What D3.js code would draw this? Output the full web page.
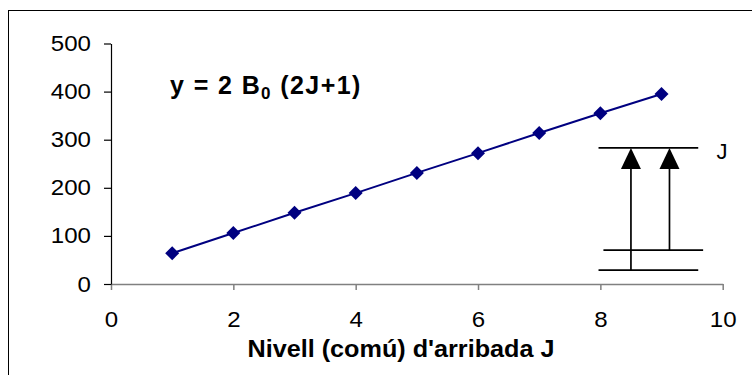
<!DOCTYPE html>
<html>
<head>
  <script src="https://d3js.org/d3.v7.min.js"></script>
  <style>
    body { margin: 0; background: #fff; overflow: hidden; }
    text { font-family: Arial, "Liberation Sans", sans-serif; }
  </style>
</head>
<body>
  <script>
    // values
    const levels = [1, 2, 3, 4, 5, 6, 7, 8, 9];
    const energies = [64, 106, 148, 189, 231, 272, 314, 355, 395];
    const xTicks = [0, 2, 4, 6, 8, 10];
    const yTicks = [0, 100, 200, 300, 400, 500];

    const width = 752, height = 375;
    const fontStack = "Arial, 'Liberation Sans', sans-serif";

    const svg = d3.select("body").append("svg")
      .attr("width", width)
      .attr("height", height);

    // outer frame (runs off the right and bottom edge)
    svg.append("rect")
      .attr("x", 8.5).attr("y", 10.5)
      .attr("width", 800).attr("height", 400)
      .attr("fill", "none").attr("stroke", "#000").attr("stroke-width", 1);

    const x = d3.scaleLinear().domain([0, 10]).range([111, 722.7]);
    const y = d3.scaleLinear().domain([0, 500]).range([284, 43.5]);

    // x axis (grey)
    const xAxis = svg.append("g")
      .attr("transform", `translate(0,${y(0)})`)
      .call(d3.axisBottom(x).tickValues(xTicks).tickSize(6).tickSizeOuter(0).tickPadding(21));
    xAxis.select(".domain").attr("stroke", "#808080").attr("stroke-width", 1.5);
    xAxis.selectAll(".tick line").attr("stroke", "#808080").attr("stroke-width", 1.5);
    xAxis.selectAll("text")
      .attr("font-size", 22).attr("fill", "#000").attr("font-family", fontStack)
      .attr("textLength", d => String(d).length * 13.4)
      .attr("lengthAdjust", "spacingAndGlyphs");

    // y axis (black)
    const yAxis = svg.append("g")
      .attr("transform", `translate(${x(0)},0)`)
      .call(d3.axisLeft(y).tickValues(yTicks).tickSize(7).tickSizeOuter(0).tickPadding(13));
    yAxis.select(".domain").attr("stroke", "#000").attr("stroke-width", 1.2);
    yAxis.selectAll(".tick line").attr("stroke", "#000").attr("stroke-width", 1.2);
    yAxis.selectAll("text")
      .attr("font-size", 22).attr("fill", "#000").attr("font-family", fontStack)
      .attr("textLength", d => String(d).length * 13.4)
      .attr("lengthAdjust", "spacingAndGlyphs");

    // axis title
    svg.append("text")
      .attr("x", 401).attr("y", 357)
      .attr("text-anchor", "middle")
      .attr("font-size", 23).attr("font-weight", "bold")
      .attr("textLength", 307).attr("lengthAdjust", "spacingAndGlyphs")
      .text("Nivell (comú) d'arribada J");

    // formula
    const f = svg.append("text")
      .attr("x", 170).attr("y", 94)
      .attr("font-size", 25).attr("font-weight", "bold")
      .attr("letter-spacing", 1.4);
    f.append("tspan").text("y = 2 B");
    f.append("tspan").attr("font-size", 17).attr("dy", 5).text("0");
    f.append("tspan").attr("dy", -5).text(" (2J+1)");

    // series
    const pts = levels.map((j, i) => ({ j, e: energies[i] }));

    svg.append("path")
      .datum(pts)
      .attr("fill", "none")
      .attr("stroke", "#000080")
      .attr("stroke-width", 2)
      .attr("d", d3.line().x(d => x(d.j)).y(d => y(d.e)));

    svg.append("g")
      .selectAll("path")
      .data(pts)
      .enter().append("path")
      .attr("transform", d => `translate(${x(d.j)},${y(d.e)})`)
      .attr("d", d3.symbol().type(d3.symbolDiamond2).size(125))
      .attr("fill", "#000080");

    // level diagram on the right
    const levelLines = [
      { x1: 7.97, x2: 9.6, v: 283 },
      { x1: 8.05, x2: 9.68, v: 70.6 },
      { x1: 7.97, x2: 9.6, v: 29 }
    ];
    const arrows = [
      { at: 8.5, from: 29, to: 283 },
      { at: 9.13, from: 70.6, to: 283 }
    ];

    const diag = svg.append("g").attr("stroke", "#000").attr("stroke-width", 1.7);
    diag.selectAll("line.lvl")
      .data(levelLines)
      .enter().append("line")
      .attr("class", "lvl")
      .attr("x1", d => x(d.x1)).attr("x2", d => x(d.x2))
      .attr("y1", d => y(d.v)).attr("y2", d => y(d.v));

    diag.selectAll("line.arr")
      .data(arrows)
      .enter().append("line")
      .attr("class", "arr")
      .attr("x1", d => x(d.at)).attr("x2", d => x(d.at))
      .attr("y1", d => y(d.from)).attr("y2", d => y(d.to) + 18);

    svg.append("g")
      .selectAll("path")
      .data(arrows)
      .enter().append("path")
      .attr("d", d => {
        const cx = x(d.at), ty = y(d.to);
        return `M${cx},${ty} L${cx - 10},${ty + 21} L${cx + 10},${ty + 21} Z`;
      })
      .attr("fill", "#000");

    svg.append("text")
      .attr("x", x(9.9)).attr("y", y(283) + 11)
      .attr("font-size", 22)
      .text("J");
  </script>
</body>
</html>
